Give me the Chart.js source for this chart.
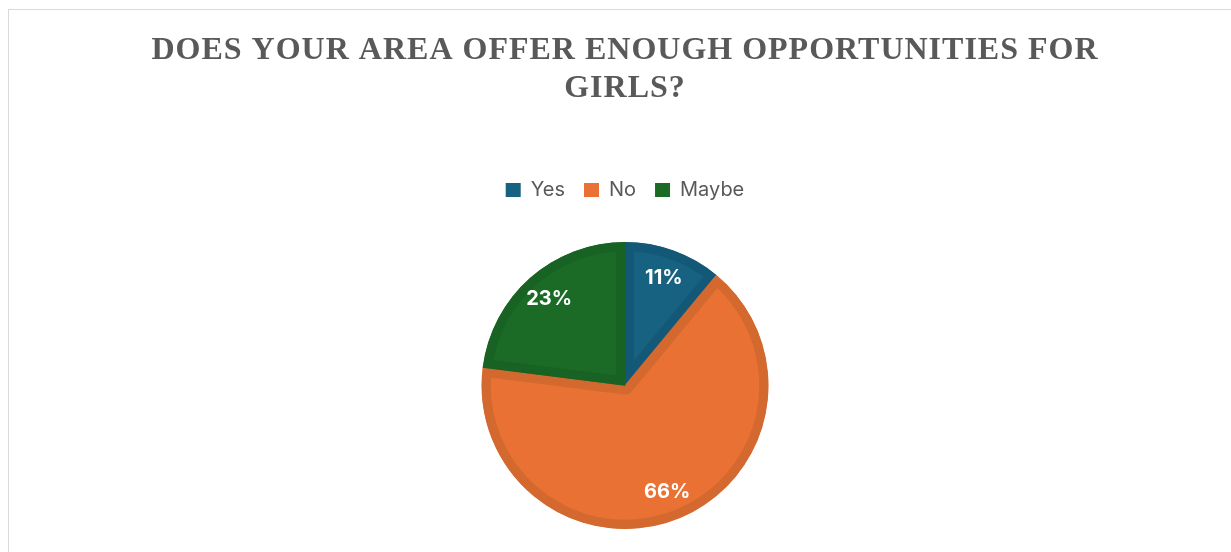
<!DOCTYPE html>
<html>
<head>
<meta charset="utf-8">
<script src="https://cdn.jsdelivr.net/npm/chart.js@4.4.1/dist/chart.umd.min.js"></script>
<style>
  body { margin: 0; background: #fff; overflow: hidden; }
  #frame { position: absolute; left: 8px; top: 9px; width: 1240px; height: 560px; border: 1px solid #d9d9d9; }
  #chart { position: absolute; left: 0; top: 0; }
</style>
</head>
<body>
<div id="frame"></div>
<canvas id="chart" width="1231" height="552"></canvas>
<script>
const titleLines = ["DOES YOUR AREA OFFER ENOUGH OPPORTUNITIES FOR", "GIRLS?"];
const answers = ["Yes", "No", "Maybe"];
const shares = [11, 66, 23];
const fillColors = ["#176181", "#E87133", "#1B6B26"];
const edgeColors = ["#145877", "#D4692F", "#186223"];

// serif title with a little tracking, which the built-in title can't do
const spacedTitle = {
  id: "spacedTitle",
  afterDraw(chart) {
    const ctx = chart.ctx;
    ctx.save();
    ctx.font = "bold 32px 'Liberation Serif', 'Times New Roman', serif";
    ctx.fillStyle = "#595959";
    ctx.textAlign = "center";
    ctx.textBaseline = "alphabetic";
    ctx.letterSpacing = "1px";
    titleLines.forEach((line, i) => ctx.fillText(line, 625, 59 + i * 38));
    ctx.restore();
  }
};

// percentage inside each slice
const sliceLabels = {
  id: "sliceLabels",
  afterDatasetsDraw(chart) {
    const ctx = chart.ctx;
    const meta = chart.getDatasetMeta(0);
    const total = shares.reduce((a, b) => a + b, 0);
    ctx.save();
    ctx.font = "bold 20px Inter, 'Liberation Sans', sans-serif";
    ctx.fillStyle = "#ffffff";
    ctx.textAlign = "center";
    ctx.textBaseline = "middle";
    meta.data.forEach((arc, i) => {
      const p = arc.getProps(["x", "y", "startAngle", "endAngle", "outerRadius"], true);
      const mid = (p.startAngle + p.endAngle) / 2;
      const r = p.outerRadius * 0.8;
      const pct = Math.round(shares[i] / total * 100) + "%";
      ctx.fillText(pct, p.x + Math.cos(mid) * r, p.y + Math.sin(mid) * r);
    });
    ctx.restore();
  }
};

// extra room between the legend and the pie
const legendGap = {
  id: "legendGap",
  beforeInit(chart) {
    if (!chart.legend) return;
    const fit = chart.legend.fit;
    chart.legend.fit = function () {
      fit.call(this);
      this.height += 32;
    };
  }
};

const ctx = document.getElementById("chart").getContext("2d");
new Chart(ctx, {
  type: "pie",
  data: {
    labels: answers,
    datasets: [
      {
        data: shares,
        backgroundColor: fillColors,
        borderColor: edgeColors,
        borderWidth: 9,
        borderAlign: "inner",
      },
    ],
  },
  options: {
    responsive: false,
    devicePixelRatio: 1,
    animation: false,
    layout: {
      padding: { top: 161, left: 19, right: 0, bottom: 23 },
    },
    plugins: {
      legend: {
        position: "top",
        labels: {
          boxWidth: 15,
          boxHeight: 14,
          padding: 19,
          color: "#595959",
          font: { size: 20, family: "Inter, 'Liberation Sans', sans-serif" },
          // plain filled squares, no slice border
          generateLabels(chart) {
            return answers.map((name, i) => ({
              text: name,
              fillStyle: fillColors[i],
              strokeStyle: fillColors[i],
              lineWidth: 0,
              fontColor: "#595959",
              hidden: !chart.getDataVisibility(i),
              index: i,
            }));
          },
        },
      },
      tooltip: { enabled: false },
    },
  },
  plugins: [spacedTitle, sliceLabels, legendGap],
});
</script>
</body>
</html>
